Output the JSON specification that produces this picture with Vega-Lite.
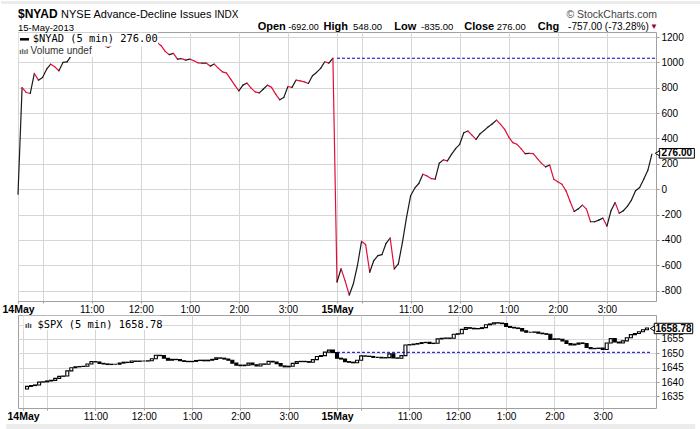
{
  "$schema": "https://vega.github.io/schema/vega-lite/v6.json",
  "padding": 0,
  "background": "#ffffff",
  "bounds": "flush",
  "spacing": 14,
  "config": {
    "view": {"stroke": "#a0a0a0"},
    "font": "Liberation Sans",
    "axis": {"labelFont": "Liberation Sans", "labelColor": "#000000", "gridColor": "#d6d6d6", "tickColor": "#999999", "domain": false, "labelOverlap": false}
  },
  "datasets": {
    "one": [{}],
    "nyad": [
      {"t":0,"v":-40},{"t":5,"v":802},{"t":10,"v":763},{"t":15,"v":755},{"t":20,"v":913},{"t":25,"v":860},{"t":30,"v":881},{"t":35,"v":947},{"t":40,"v":986},{"t":45,"v":965},
      {"t":50,"v":934},{"t":55,"v":1000},{"t":60,"v":1005},{"t":65,"v":1052},{"t":70,"v":1090},{"t":75,"v":1115},{"t":80,"v":1140},{"t":85,"v":1150},{"t":90,"v":1165},{"t":95,"v":1160},
      {"t":100,"v":1150},{"t":105,"v":1136},{"t":110,"v":1118},{"t":115,"v":1135},{"t":120,"v":1150},{"t":125,"v":1165},{"t":130,"v":1180},{"t":135,"v":1172},{"t":140,"v":1188},{"t":145,"v":1182},
      {"t":150,"v":1172},{"t":155,"v":1185},{"t":160,"v":1172},{"t":165,"v":1166},{"t":170,"v":1158},{"t":175,"v":1132},{"t":180,"v":1087},{"t":185,"v":1061},{"t":190,"v":1071},{"t":195,"v":1026},
      {"t":200,"v":1030},{"t":205,"v":1018},{"t":210,"v":1026},{"t":215,"v":1013},{"t":220,"v":997},{"t":225,"v":995},{"t":230,"v":995},{"t":235,"v":971},{"t":240,"v":987},{"t":245,"v":953},
      {"t":250,"v":926},{"t":255,"v":916},{"t":260,"v":868},{"t":265,"v":821},{"t":270,"v":776},{"t":275,"v":821},{"t":280,"v":837},{"t":285,"v":797},{"t":290,"v":768},{"t":295,"v":760},
      {"t":300,"v":790},{"t":305,"v":821},{"t":310,"v":803},{"t":315,"v":750},{"t":320,"v":705},{"t":325,"v":724},{"t":330,"v":810},{"t":335,"v":803},{"t":340,"v":861},{"t":345,"v":855},
      {"t":350,"v":847},{"t":355,"v":834},{"t":360,"v":895},{"t":365,"v":921},{"t":370,"v":953},{"t":375,"v":1005},{"t":380,"v":995},{"t":385,"v":1033},
      {"t":390,"v":-732},{"t":395,"v":-628},{"t":400,"v":-725},{"t":405,"v":-835},{"t":410,"v":-746},{"t":415,"v":-602},{"t":420,"v":-411},{"t":425,"v":-437},{"t":430,"v":-655},{"t":435,"v":-563},
      {"t":440,"v":-524},{"t":445,"v":-516},{"t":450,"v":-427},{"t":455,"v":-385},{"t":460,"v":-629},{"t":465,"v":-590},{"t":470,"v":-419},{"t":475,"v":-223},{"t":480,"v":-52},{"t":485,"v":8},
      {"t":490,"v":45},{"t":495,"v":118},{"t":500,"v":105},{"t":505,"v":84},{"t":510,"v":79},{"t":515,"v":204},{"t":520,"v":231},{"t":525,"v":223},{"t":530,"v":275},{"t":535,"v":320},
      {"t":540,"v":354},{"t":545,"v":445},{"t":550,"v":459},{"t":555,"v":427},{"t":560,"v":393},{"t":565,"v":438},{"t":570,"v":464},{"t":575,"v":493},{"t":580,"v":516},{"t":585,"v":545},
      {"t":590,"v":511},{"t":595,"v":472},{"t":600,"v":411},{"t":605,"v":367},{"t":610,"v":354},{"t":615,"v":320},{"t":620,"v":280},{"t":625,"v":283},{"t":630,"v":280},{"t":635,"v":241},
      {"t":640,"v":204},{"t":645,"v":176},{"t":650,"v":191},{"t":655,"v":79},{"t":660,"v":58},{"t":665,"v":39},{"t":670,"v":-13},{"t":675,"v":-97},{"t":680,"v":-176},{"t":685,"v":-155},
      {"t":690,"v":-126},{"t":695,"v":-157},{"t":700,"v":-257},{"t":705,"v":-257},{"t":710,"v":-244},{"t":715,"v":-228},{"t":720,"v":-291},{"t":725,"v":-170},{"t":730,"v":-105},{"t":735,"v":-189},
      {"t":740,"v":-170},{"t":745,"v":-136},{"t":750,"v":-86},{"t":755,"v":-13},{"t":760,"v":13},{"t":765,"v":79},{"t":770,"v":149},{"t":775,"v":276}
    ],
    "spx": [
      {"t":0,"c":1637.6},{"t":5,"c":1638.5},{"t":10,"c":1638.8},{"t":15,"c":1639.0},{"t":20,"c":1640.0},{"t":25,"c":1640.1},{"t":30,"c":1640.4},{"t":35,"c":1640.6},{"t":40,"c":1641.3},{"t":45,"c":1642.0},
      {"t":50,"c":1642.1},{"t":55,"c":1643.9},{"t":60,"c":1645.0},{"t":65,"c":1645.3},{"t":70,"c":1645.4},{"t":75,"c":1645.5},{"t":80,"c":1646.3},{"t":85,"c":1647.1},{"t":90,"c":1647.0},{"t":95,"c":1646.5},
      {"t":100,"c":1646.3},{"t":105,"c":1646.1},{"t":110,"c":1646.2},{"t":115,"c":1646.2},{"t":120,"c":1646.6},{"t":125,"c":1646.9},{"t":130,"c":1646.8},{"t":135,"c":1647.3},{"t":140,"c":1647.2},{"t":145,"c":1647.3},
      {"t":150,"c":1647.3},{"t":155,"c":1647.4},{"t":160,"c":1648.1},{"t":165,"c":1649.3},{"t":170,"c":1649.2},{"t":175,"c":1648.3},{"t":180,"c":1647.6},{"t":185,"c":1647.9},{"t":190,"c":1647.8},{"t":195,"c":1647.4},
      {"t":200,"c":1647.2},{"t":205,"c":1647.1},{"t":210,"c":1647.2},{"t":215,"c":1647.5},{"t":220,"c":1647.6},{"t":225,"c":1647.4},{"t":230,"c":1647.6},{"t":235,"c":1647.9},{"t":240,"c":1648.4},{"t":245,"c":1648.3},
      {"t":250,"c":1648.0},{"t":255,"c":1647.6},{"t":260,"c":1646.6},{"t":265,"c":1645.9},{"t":270,"c":1645.7},{"t":275,"c":1645.9},{"t":280,"c":1646.6},{"t":285,"c":1646.0},{"t":290,"c":1645.6},{"t":295,"c":1646.3},
      {"t":300,"c":1646.2},{"t":305,"c":1647.2},{"t":310,"c":1647.0},{"t":315,"c":1646.4},{"t":320,"c":1645.6},{"t":325,"c":1645.3},{"t":330,"c":1645.5},{"t":335,"c":1646.5},{"t":340,"c":1647.1},{"t":345,"c":1647.2},
      {"t":350,"c":1647.1},{"t":355,"c":1646.9},{"t":360,"c":1647.8},{"t":365,"c":1648.9},{"t":370,"c":1649.2},{"t":375,"c":1650.4},{"t":380,"c":1651.1},{"t":385,"c":1650.3},
      {"t":390,"c":1648.3},{"t":395,"c":1648.0},{"t":400,"c":1647.1},{"t":405,"c":1646.9},{"t":410,"c":1646.7},{"t":415,"c":1647.6},{"t":420,"c":1649.1},{"t":425,"c":1649.0},{"t":430,"c":1648.9},{"t":435,"c":1648.6},
      {"t":440,"c":1648.6},{"t":445,"c":1648.4},{"t":450,"c":1648.5},{"t":455,"c":1649.8},{"t":460,"c":1648.4},{"t":465,"c":1648.3},{"t":470,"c":1649.2},{"t":475,"c":1652.9},{"t":480,"c":1653.0},{"t":485,"c":1653.2},
      {"t":490,"c":1653.4},{"t":495,"c":1653.7},{"t":500,"c":1653.8},{"t":505,"c":1653.4},{"t":510,"c":1653.5},{"t":515,"c":1655.0},{"t":520,"c":1655.2},{"t":525,"c":1655.3},{"t":530,"c":1655.2},{"t":535,"c":1656.6},
      {"t":540,"c":1656.8},{"t":545,"c":1658.3},{"t":550,"c":1658.9},{"t":555,"c":1658.7},{"t":560,"c":1658.5},{"t":565,"c":1658.6},{"t":570,"c":1658.9},{"t":575,"c":1659.9},{"t":580,"c":1660.2},{"t":585,"c":1660.6},
      {"t":590,"c":1660.5},{"t":595,"c":1660.3},{"t":600,"c":1659.3},{"t":605,"c":1659.0},{"t":610,"c":1658.8},{"t":615,"c":1658.6},{"t":620,"c":1657.8},{"t":625,"c":1657.3},{"t":630,"c":1657.3},{"t":635,"c":1657.4},
      {"t":640,"c":1657.0},{"t":645,"c":1656.8},{"t":650,"c":1656.6},{"t":655,"c":1654.8},{"t":660,"c":1655.0},{"t":665,"c":1654.9},{"t":670,"c":1654.3},{"t":675,"c":1653.4},{"t":680,"c":1652.9},{"t":685,"c":1653.2},
      {"t":690,"c":1653.6},{"t":695,"c":1653.4},{"t":700,"c":1652.0},{"t":705,"c":1651.6},{"t":710,"c":1651.7},{"t":715,"c":1651.8},{"t":720,"c":1651.3},{"t":725,"c":1653.6},{"t":730,"c":1655.1},{"t":735,"c":1653.9},
      {"t":740,"c":1653.6},{"t":745,"c":1654.3},{"t":750,"c":1655.4},{"t":755,"c":1656.5},{"t":760,"c":1656.9},{"t":765,"c":1657.5},{"t":770,"c":1658.2},{"t":775,"c":1658.78}
    ]
  },
  "vconcat": [
    {
      "width": 638,
      "height": 269,
      "layer": [
        {
          "data": {"name": "nyad"},
          "transform": [
            {"window": [{"op": "lead", "field": "v", "as": "vn"}, {"op": "lead", "field": "t", "as": "tn"}], "sort": [{"field": "t"}]},
            {"filter": "isValid(datum.tn)"}
          ],
          "mark": {"type": "rule", "strokeWidth": 1.2, "strokeCap": "round"},
          "encoding": {
            "x": {
              "field": "t", "type": "quantitative", "title": null,
              "scale": {"domain": [0, 780], "nice": false, "zero": false},
              "axis": {
                "title": null, "tickCount": 40,
                "values": [0, 30, 90, 150, 210, 270, 330, 390, 420, 480, 540, 600, 660, 720],
                "labelExpr": "datum.value == 0 ? '14May' : datum.value == 390 ? '15May' : datum.value % 390 == 30 ? '' : ((570 + datum.value % 390) / 60 - 1) % 12 + 1 + ':00'",
                "labelAlign": "center", "labelFlush": false, "labelOverlap": false, "labelPadding": 1, "tickSize": 2, "grid": true,
                "labelFontSize": {"condition": {"test": "datum.value % 390 == 0", "value": 10.5}, "value": 10},
                "labelFontWeight": {"condition": {"test": "datum.value % 390 == 0", "value": "bold"}, "value": "normal"}
              }
            },
            "x2": {"field": "tn"},
            "y": {
              "field": "v", "type": "quantitative", "title": null,
              "scale": {"domain": [-882, 1240], "nice": false, "zero": false},
              "axis": {
                "title": null, "tickCount": 40,
                "orient": "right", "values": [-800, -600, -400, -200, 0, 200, 400, 600, 800, 1000, 1200],
                "labelExpr": "datum.value + ''", "labelOverlap": false, "grid": true, "tickSize": 3, "labelPadding": 2, "labelFontSize": 10
              }
            },
            "y2": {"field": "vn"},
            "color": {"condition": {"test": "datum.vn < datum.v", "value": "#e0103a"}, "value": "#1a1a1a"}
          }
        },
        {
          "data": {"name": "one"},
          "mark": {"type": "rect", "color": "#ececec"},
          "encoding": {
            "x": {"datum": -20.78}, "x2": {"datum": 835},
            "y": {"datum": 1484.4}, "y2": {"datum": 1460.9}
          }
        },
        {
          "data": {"name": "one"},
          "mark": {"type": "rule", "color": "#0000cc", "strokeDash": [3, 2], "strokeWidth": 1},
          "encoding": {"x": {"datum": 390}, "x2": {"datum": 780}, "y": {"datum": 1033}}
        },
        {
          "data": {"name": "one"},
          "mark": {"type": "rect", "color": "#ffffff"},
          "encoding": {"x": {"datum": 0.8}, "x2": {"datum": 171.2}, "y": {"datum": 1235.3}, "y2": {"datum": 1125.6}}
        },
        {
          "data": {"name": "one"},
          "mark": {"type": "rect", "color": "#ffffff"},
          "encoding": {"x": {"datum": 0.8}, "x2": {"datum": 92.9}, "y": {"datum": 1125.6}, "y2": {"datum": 1042.8}}
        },
        {
          "data": {"name": "one"},
          "mark": {"type": "rule", "color": "#000000", "strokeWidth": 2.5},
          "encoding": {"x": {"datum": 2.45}, "x2": {"datum": 13.45}, "y": {"datum": 1182.4}}
        },
        {
          "data": {"name": "one"},
          "mark": {"type": "text", "align": "left", "baseline": "alphabetic", "font": "DejaVu Sans Mono", "fontSize": 10.4, "color": "#000000", "text": "$NYAD (5 min) 276.00"},
          "encoding": {"x": {"datum": 18.0}, "y": {"datum": 1158.7}}
        },
        {
          "data": {"name": "one"},
          "mark": {"type": "text", "align": "left", "baseline": "alphabetic", "fontSize": 8, "fontWeight": "bold", "color": "#555555", "text": "ılıl"},
          "encoding": {"x": {"datum": 1.5}, "y": {"datum": 1066.5}}
        },
        {
          "data": {"name": "one"},
          "mark": {"type": "text", "align": "left", "baseline": "alphabetic", "fontSize": 10, "color": "#333333", "text": "Volume undef"},
          "encoding": {"x": {"datum": 15.3}, "y": {"datum": 1066.5}}
        },
        {
          "data": {"name": "one"},
          "mark": {"type": "text", "align": "left", "baseline": "alphabetic", "fontSize": 12, "fontWeight": "bold", "color": "#000000", "text": "$NYAD"},
          "encoding": {"x": {"datum": 0}, "y": {"datum": 1346.5}}
        },
        {
          "data": {"name": "one"},
          "mark": {"type": "text", "align": "left", "baseline": "alphabetic", "fontSize": 11, "color": "#000000", "text": "NYSE Advance-Decline Issues"},
          "encoding": {"x": {"datum": 52.6}, "y": {"datum": 1346.5}}
        },
        {
          "data": {"name": "one"},
          "mark": {"type": "text", "align": "left", "baseline": "alphabetic", "fontSize": 10, "color": "#000000", "text": "INDX"},
          "encoding": {"x": {"datum": 240.2}, "y": {"datum": 1346.5}}
        },
        {
          "data": {"name": "one"},
          "mark": {"type": "text", "align": "left", "baseline": "alphabetic", "fontSize": 9.5, "color": "#000000", "text": "15-May-2013"},
          "encoding": {"x": {"datum": 0}, "y": {"datum": 1251.8}}
        },
        {
          "data": {"name": "one"},
          "mark": {"type": "text", "align": "right", "baseline": "alphabetic", "fontSize": 10.5, "color": "#444444", "text": "© StockCharts.com"},
          "encoding": {"x": {"datum": 781.2}, "y": {"datum": 1352.8}}
        },
        {
          "data": {"name": "one"},
          "mark": {"type": "text", "align": "left", "baseline": "alphabetic", "fontSize": 11, "fontWeight": "bold", "color": "#000000", "text": "Open"},
          "encoding": {"x": {"datum": 293.05}, "y": {"datum": 1258}}
        },
        {
          "data": {"name": "one"},
          "mark": {"type": "text", "align": "left", "baseline": "alphabetic", "fontSize": 9, "color": "#000000", "text": "-692.00"},
          "encoding": {"x": {"datum": 330.5}, "y": {"datum": 1258}}
        },
        {
          "data": {"name": "one"},
          "mark": {"type": "text", "align": "left", "baseline": "alphabetic", "fontSize": 11, "fontWeight": "bold", "color": "#000000", "text": "High"},
          "encoding": {"x": {"datum": 373.5}, "y": {"datum": 1258}}
        },
        {
          "data": {"name": "one"},
          "mark": {"type": "text", "align": "left", "baseline": "alphabetic", "fontSize": 9.5, "color": "#000000", "text": "548.00"},
          "encoding": {"x": {"datum": 409.6}, "y": {"datum": 1258}}
        },
        {
          "data": {"name": "one"},
          "mark": {"type": "text", "align": "left", "baseline": "alphabetic", "fontSize": 11, "fontWeight": "bold", "color": "#000000", "text": "Low"},
          "encoding": {"x": {"datum": 460.05}, "y": {"datum": 1258}}
        },
        {
          "data": {"name": "one"},
          "mark": {"type": "text", "align": "left", "baseline": "alphabetic", "fontSize": 9.5, "color": "#000000", "text": "-835.00"},
          "encoding": {"x": {"datum": 492.7}, "y": {"datum": 1258}}
        },
        {
          "data": {"name": "one"},
          "mark": {"type": "text", "align": "left", "baseline": "alphabetic", "fontSize": 11, "fontWeight": "bold", "color": "#000000", "text": "Close"},
          "encoding": {"x": {"datum": 545.6}, "y": {"datum": 1258}}
        },
        {
          "data": {"name": "one"},
          "mark": {"type": "text", "align": "left", "baseline": "alphabetic", "fontSize": 9.5, "color": "#000000", "text": "276.00"},
          "encoding": {"x": {"datum": 585.2}, "y": {"datum": 1258}}
        },
        {
          "data": {"name": "one"},
          "mark": {"type": "text", "align": "left", "baseline": "alphabetic", "fontSize": 11, "fontWeight": "bold", "color": "#000000", "text": "Chg"},
          "encoding": {"x": {"datum": 635.4}, "y": {"datum": 1258}}
        },
        {
          "data": {"name": "one"},
          "mark": {"type": "text", "align": "right", "baseline": "alphabetic", "fontSize": 10, "color": "#000000", "text": "-757.00 (-73.28%)"},
          "encoding": {"x": {"datum": 771.1}, "y": {"datum": 1258}}
        },
        {
          "data": {"name": "one"},
          "mark": {"type": "text", "align": "center", "baseline": "alphabetic", "fontSize": 8, "color": "#990033", "text": "▼"},
          "encoding": {"x": {"datum": 777.6}, "y": {"datum": 1266}}
        },
        {
          "data": {"name": "one"},
          "mark": {"type": "rect", "fill": "#ffffff", "stroke": "#000000", "strokeWidth": 1},
          "encoding": {"x": {"datum": 784.0}, "x2": {"datum": 826.9}, "y": {"datum": 321.0}, "y2": {"datum": 245.0}}
        },
        {
          "data": {"name": "one"},
          "mark": {"type": "point", "shape": "triangle-left", "size": 26, "filled": true, "fill": "#ffffff", "stroke": "#000000", "strokeWidth": 1, "opacity": 1},
          "encoding": {"x": {"datum": 781.8}, "y": {"datum": 283}}
        },
        {
          "data": {"name": "one"},
          "mark": {"type": "text", "align": "center", "baseline": "middle", "fontSize": 10, "fontWeight": "bold", "color": "#000000", "text": "276.00"},
          "encoding": {"x": {"datum": 805.4}, "y": {"datum": 283}}
        }
      ]
    },
    {
      "width": 638,
      "height": 93,
      "layer": [
        {
          "data": {"name": "spx"},
          "transform": [
            {"window": [{"op": "lag", "field": "c", "as": "o"}], "sort": [{"field": "t"}]},
            {"filter": "isValid(datum.o)"}
          ],
          "mark": {"type": "bar", "size": 3, "stroke": "#000000", "strokeWidth": 1.1},
          "encoding": {
            "x": {
              "field": "t", "type": "quantitative", "title": null,
              "scale": {"domain": [0, 780], "nice": false, "zero": false},
              "axis": {
                "title": null, "tickCount": 40,
                "values": [0, 30, 90, 150, 210, 270, 330, 390, 420, 480, 540, 600, 660, 720],
                "labelExpr": "datum.value == 0 ? '14May' : datum.value == 390 ? '15May' : datum.value % 390 == 30 ? '' : ((570 + datum.value % 390) / 60 - 1) % 12 + 1 + ':00'",
                "labelAlign": "center", "labelFlush": false, "labelOverlap": false, "labelPadding": 1, "tickSize": 2, "grid": true,
                "labelFontSize": {"condition": {"test": "datum.value % 390 == 0", "value": 10.5}, "value": 10},
                "labelFontWeight": {"condition": {"test": "datum.value % 390 == 0", "value": "bold"}, "value": "normal"}
              }
            },
            "y": {
              "field": "c", "type": "quantitative", "title": null,
              "scale": {"domain": [1631.0, 1663.3], "nice": false, "zero": false},
              "axis": {
                "title": null, "tickCount": 40,
                "orient": "right", "values": [1635, 1640, 1645, 1650, 1655, 1660],
                "labelExpr": "datum.value == 1660 ? '' : datum.value + ''", "labelOverlap": false, "grid": true, "tickSize": 3, "labelPadding": 2, "labelFontSize": 10
              }
            },
            "y2": {"field": "o"},
            "fill": {"condition": {"test": "datum.c >= datum.o", "value": "#ffffff"}, "value": "#000000"}
          }
        },
        {
          "data": {"name": "one"},
          "mark": {"type": "rule", "color": "#0000cc", "strokeDash": [3, 2], "strokeWidth": 1},
          "encoding": {"x": {"datum": 390}, "x2": {"datum": 780}, "y": {"datum": 1650.34}}
        },
        {
          "data": {"name": "one"},
          "mark": {"type": "rect", "color": "#ffffff"},
          "encoding": {"x": {"datum": 0.8}, "x2": {"datum": 171.2}, "y": {"datum": 1663.0}, "y2": {"datum": 1658.1}}
        },
        {
          "data": {"name": "one"},
          "mark": {"type": "text", "align": "left", "baseline": "alphabetic", "fontSize": 8, "fontWeight": "bold", "color": "#333333", "text": "ılı"},
          "encoding": {"x": {"datum": 2.4}, "y": {"datum": 1658.89}}
        },
        {
          "data": {"name": "one"},
          "mark": {"type": "text", "align": "left", "baseline": "alphabetic", "font": "DejaVu Sans Mono", "fontSize": 10.4, "color": "#000000", "text": "$SPX (5 min) 1658.78"},
          "encoding": {"x": {"datum": 18.0}, "y": {"datum": 1658.89}}
        },
        {
          "data": {"name": "one"},
          "mark": {"type": "rect", "fill": "#ffffff", "stroke": "#000000", "strokeWidth": 1},
          "encoding": {"x": {"datum": 784.0}, "x2": {"datum": 831.8}, "y": {"datum": 1660.42}, "y2": {"datum": 1656.8}}
        },
        {
          "data": {"name": "one"},
          "mark": {"type": "point", "shape": "triangle-left", "size": 26, "filled": true, "fill": "#ffffff", "stroke": "#000000", "strokeWidth": 1, "opacity": 1},
          "encoding": {"x": {"datum": 781.8}, "y": {"datum": 1658.61}}
        },
        {
          "data": {"name": "one"},
          "mark": {"type": "text", "align": "center", "baseline": "middle", "fontSize": 10, "fontWeight": "bold", "color": "#000000", "text": "1658.78"},
          "encoding": {"x": {"datum": 807.9}, "y": {"datum": 1658.61}}
        },
        {
          "data": {"name": "one"},
          "mark": {"type": "rect", "color": "#ececec"},
          "encoding": {"x": {"datum": -20.78}, "x2": {"datum": 835}, "y": {"datum": 1625.45}, "y2": {"datum": 1623.4}}
        }
      ]
    }
  ]
}
